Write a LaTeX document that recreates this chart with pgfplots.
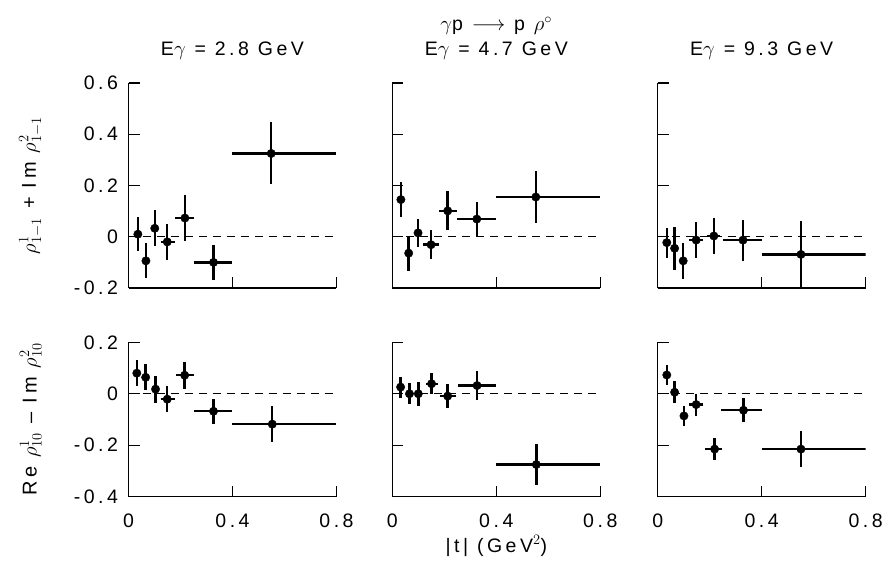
\documentclass[border=0pt]{standalone}
\usepackage{fontspec}
\setmainfont{Liberation Sans}[LetterSpace=18]
\usepackage{pgfplots}
\pgfplotsset{compat=1.18}
\usepackage{pgfplotstable}

% columns: x y exm exp ey
\pgfplotstableread{
x y exm exp ey
0.036 0.010 0 0 0.066
0.067 -0.094 0 0 0.068
0.101 0.033 0 0 0.070
0.149 -0.020 0.025 0.028 0.070
0.217 0.073 0.037 0.033 0.088
0.327 -0.100 0.077 0.073 0.068
0.549 0.325 0.149 0.251 0.121
}\dataA
\pgfplotstableread{
x y exm exp ey
0.033 0.145 0 0 0.067
0.063 -0.064 0 0 0.068
0.099 0.015 0 0 0.056
0.149 -0.031 0.030 0.030 0.057
0.213 0.101 0.034 0.037 0.076
0.325 0.069 0.075 0.074 0.067
0.552 0.155 0.152 0.248 0.100
}\dataB
\pgfplotstableread{
x y exm exp ey
0.035 -0.023 0 0 0.059
0.065 -0.045 0 0 0.083
0.098 -0.094 0 0 0.069
0.148 -0.013 0.027 0.027 0.070
0.216 0.003 0.026 0.024 0.070
0.328 -0.013 0.078 0.072 0.080
0.551 -0.069 0.151 0.249 0.131
}\dataC
\pgfplotstableread{
x y exm exp ey
0.032 0.080 0 0 0.050
0.066 0.064 0 0 0.050
0.104 0.018 0 0 0.053
0.149 -0.021 0.024 0.028 0.050
0.216 0.072 0.033 0.034 0.053
0.327 -0.068 0.077 0.073 0.048
0.553 -0.118 0.153 0.247 0.070
}\dataD
\pgfplotstableread{
x y exm exp ey
0.032 0.026 0 0 0.041
0.066 0.000 0 0 0.040
0.100 0.000 0 0 0.047
0.151 0.039 0.020 0.023 0.041
0.213 -0.009 0.030 0.033 0.048
0.326 0.032 0.075 0.073 0.058
0.554 -0.275 0.154 0.246 0.080
}\dataE
\pgfplotstableread{
x y exm exp ey
0.035 0.073 0 0 0.040
0.065 0.006 0 0 0.042
0.101 -0.086 0 0 0.038
0.148 -0.042 0.028 0.027 0.043
0.219 -0.215 0.038 0.030 0.044
0.330 -0.064 0.087 0.070 0.047
0.551 -0.215 0.151 0.249 0.070
}\dataF

\pgfplotsset{
  panel/.style={
    scale only axis, width=208pt,
    axis lines*=left,
    xmin=0, xmax=0.8,
    xtick={0,0.4,0.8},
    tick align=inside,
    major tick length=11pt,
    axis line style={line width=1.1pt, black},
    every tick/.style={line width=1.1pt, black},
    font=\fontsize{19.5}{22}\selectfont,
    anchor=south west,
    xticklabel style={yshift=-14pt},
    yticklabel style={xshift=-7pt},
  },
  toprow/.style={height=205pt, ymin=-0.2, ymax=0.6,
    ytick={-0.2,0,0.2,0.4,0.6}, xticklabels={}},
  botrow/.style={height=154.4pt, ymin=-0.4, ymax=0.2,
    ytick={-0.4,-0.2,0,0.2}, xticklabels={0,0.4,0.8}},
  noylab/.style={yticklabels={}},
  pts/.style={black, only marks, mark=*, mark size=4.2pt,
    error bars/.cd, x dir=both, x explicit, y dir=both, y explicit,
    error mark=none,
    error bar style={line width=2.4pt, black}},
  zero/.style={black, dashed, line width=0.8pt, dash pattern=on 8pt off 6pt},
  ttl/.style={title style={at={(axis description cs:0.5,1)}, anchor=center, yshift=26pt}},
  ylab/.style={ylabel style={at={(axis description cs:-0.47,0.5)}, anchor=center, font=\fontsize{20}{23}\selectfont}},
}
\newcommand{\series}[1]{%
  \addplot[zero] coordinates {(0,0) (0.8,0)};
  \addplot[pts] table[x=x, y=y, x error minus=exm, x error plus=exp,
    y error plus=ey, y error minus=ey] {#1};
}

\begin{document}
\begin{tikzpicture}
\useasboundingbox (0,0) rectangle (888pt,571pt);

\begin{axis}[panel, toprow, ttl, ylab, at={(128.5pt,283pt)},
  yticklabels={-0.2,0,0.2,0.4,0.6},
  title={E$\gamma$ = 2.8 GeV},
  ylabel={$\rho^{1}_{1-1}$ + Im $\rho^{2}_{1-1}$}]
\series{\dataA}
\end{axis}

\begin{axis}[panel, toprow, noylab, ttl, name=B, at={(392.3pt,283pt)},
  title={E$\gamma$ = 4.7 GeV}]
\series{\dataB}
\end{axis}
\node[font=\fontsize{19.5}{22}\selectfont] at (B.north) [yshift=57pt] {$\gamma$p $\longrightarrow$ p $\rho^{\circ}$};

\begin{axis}[panel, toprow, noylab, ttl, at={(657.7pt,283pt)},
  title={E$\gamma$ = 9.3 GeV}]
\series{\dataC}
\end{axis}

\begin{axis}[panel, botrow, ylab, at={(128.5pt,74.3pt)},
  yticklabels={-0.4,-0.2,0,0.2},
  ylabel={Re $\rho^{1}_{10}$ -- Im $\rho^{2}_{10}$}]
\series{\dataD}
\end{axis}

\begin{axis}[panel, botrow, noylab, at={(392.3pt,74.3pt)},
  xlabel={|t| (GeV$^{2}$)},
  xlabel style={at={(axis description cs:0.5,0)}, anchor=center, yshift=-49pt}]
\series{\dataE}
\end{axis}

\begin{axis}[panel, botrow, noylab, at={(657.7pt,74.3pt)}]
\series{\dataF}
\end{axis}
\end{tikzpicture}
\end{document}
